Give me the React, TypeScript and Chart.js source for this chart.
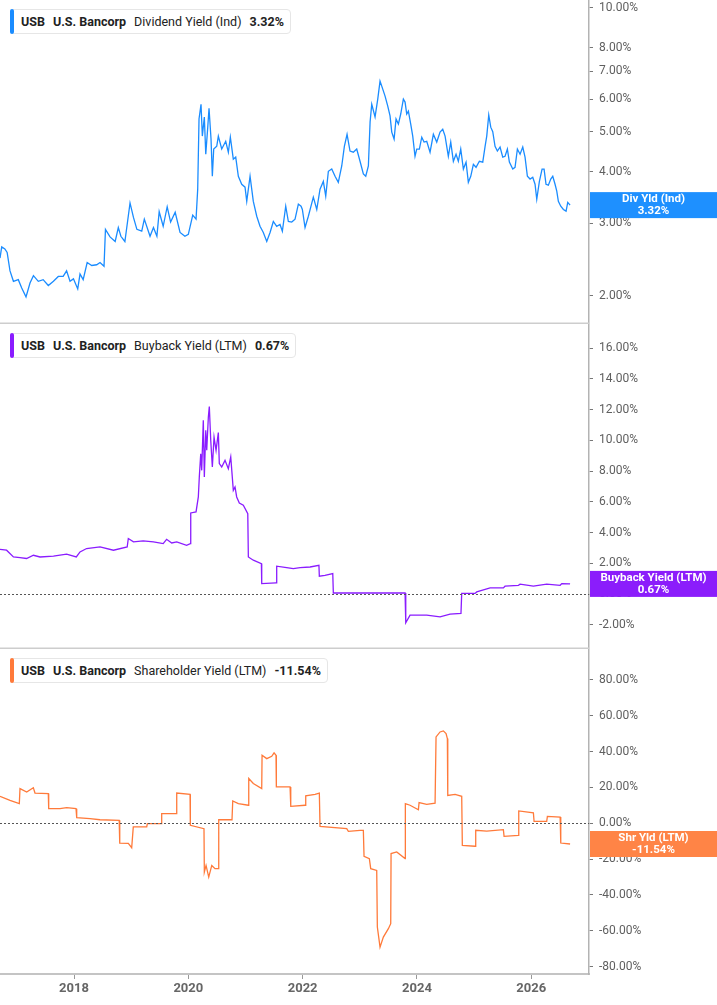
import React, { useEffect, useRef } from "react";
import { Chart, registerables } from "chart.js";

Chart.register(...registerables);

// ---------- DATA ----------
const X_MIN = 2016.705;
const X_MAX = 2027.01;
const xTickYears = [2018, 2020, 2022, 2024, 2026];

const divTicks = [2, 3, 4, 5, 6, 7, 8, 10];
const buybackTicks = [-2, 0, 2, 4, 6, 8, 10, 12, 14, 16];
const shrTicks = [-80, -60, -40, -20, 0, 20, 40, 60, 80];

const divYears = [
  2016.705, 2016.735, 2016.79, 2016.83, 2016.88, 2016.94, 2017.025, 2017.085, 2017.16, 2017.23,
  2017.29, 2017.375, 2017.46, 2017.55, 2017.64, 2017.725, 2017.81, 2017.87, 2017.93, 2017.99,
  2018.065, 2018.105, 2018.16, 2018.23, 2018.31, 2018.397, 2018.455, 2018.525, 2018.55, 2018.63,
  2018.72, 2018.775, 2018.82, 2018.89, 2018.98, 2019.04, 2019.1, 2019.185, 2019.23, 2019.33,
  2019.39, 2019.45, 2019.49, 2019.56, 2019.63, 2019.69, 2019.77, 2019.855, 2019.94, 2020.0,
  2020.077, 2020.135, 2020.164, 2020.187, 2020.222, 2020.245, 2020.28, 2020.305, 2020.34, 2020.362,
  2020.397, 2020.42, 2020.444, 2020.497, 2020.525, 2020.584, 2020.654, 2020.7, 2020.735, 2020.787,
  2020.829, 2020.875, 2020.934, 2020.992, 2021.022, 2021.08, 2021.137, 2021.197, 2021.254, 2021.312,
  2021.372, 2021.43, 2021.487, 2021.546, 2021.604, 2021.645, 2021.704, 2021.75, 2021.809, 2021.867,
  2021.925, 2021.972, 2021.995, 2022.042, 2022.1, 2022.187, 2022.247, 2022.304, 2022.362, 2022.404,
  2022.45, 2022.509, 2022.567, 2022.624, 2022.684, 2022.73, 2022.777, 2022.829, 2022.887, 2022.946,
  2023.004, 2023.062, 2023.104, 2023.15, 2023.18, 2023.209, 2023.267, 2023.314, 2023.354, 2023.384,
  2023.442, 2023.489, 2023.529, 2023.559, 2023.6, 2023.634, 2023.675, 2023.716, 2023.762, 2023.792,
  2023.821, 2023.85, 2023.891, 2023.926, 2023.966, 2023.996, 2024.042, 2024.084, 2024.124, 2024.171,
  2024.229, 2024.287, 2024.346, 2024.404, 2024.451, 2024.492, 2024.549, 2024.591, 2024.637, 2024.684,
  2024.724, 2024.766, 2024.812, 2024.859, 2024.899, 2024.941, 2024.987, 2025.034, 2025.092, 2025.151,
  2025.192, 2025.221, 2025.256, 2025.291, 2025.326, 2025.366, 2025.407, 2025.454, 2025.501, 2025.541,
  2025.582, 2025.617, 2025.676, 2025.716, 2025.757, 2025.804, 2025.851, 2025.891, 2025.932, 2025.979,
  2026.026, 2026.066, 2026.096, 2026.142, 2026.189, 2026.224, 2026.258, 2026.299, 2026.341, 2026.376,
  2026.416, 2026.446, 2026.474, 2026.516, 2026.562, 2026.609, 2026.638, 2026.679,
];
const divValues = [
  2.47, 2.63, 2.60, 2.55, 2.30, 2.17, 2.19, 2.09, 1.99, 2.15,
  2.24, 2.17, 2.19, 2.12, 2.17, 2.23, 2.23, 2.30, 2.17, 2.20,
  2.08, 2.26, 2.19, 2.41, 2.37, 2.38, 2.41, 2.36, 2.90, 2.78,
  2.71, 2.93, 2.79, 2.71, 3.36, 3.10, 2.90, 2.87, 3.07, 2.79,
  2.93, 2.79, 3.20, 2.95, 3.29, 3.02, 3.19, 2.85, 2.79, 2.82,
  3.14, 3.07, 3.63, 5.37, 5.83, 4.88, 5.43, 4.41, 5.13, 5.70,
  4.80, 3.90, 4.54, 4.61, 4.88, 4.54, 4.74, 4.46, 4.85, 4.29,
  4.34, 3.90, 3.73, 3.67, 3.39, 3.90, 3.39, 3.12, 2.95, 2.85,
  2.71, 2.85, 3.03, 2.95, 2.98, 2.87, 3.30, 3.03, 3.02, 3.07,
  3.34, 3.30, 3.24, 2.93, 3.12, 3.47, 3.24, 3.63, 3.79, 3.49,
  4.01, 4.06, 3.90, 3.77, 4.13, 4.61, 4.93, 4.49, 4.46, 4.54,
  4.24, 3.95, 3.90, 4.13, 5.28, 5.83, 5.43, 6.00, 6.63, 6.45,
  6.10, 5.77, 5.46, 4.99, 4.80, 5.37, 5.22, 5.52, 6.00, 5.90,
  5.52, 5.61, 5.22, 4.88, 4.36, 4.54, 4.54, 4.85, 4.72, 4.74,
  4.46, 4.93, 4.72, 4.99, 5.07, 4.88, 4.36, 4.72, 4.24, 4.41,
  4.24, 4.54, 4.06, 4.22, 3.77, 3.90, 4.17, 4.10, 4.24, 4.22,
  4.61, 4.88, 5.49, 5.13, 5.00, 4.61, 4.49, 4.59, 4.34, 4.36,
  4.54, 4.22, 4.06, 4.10, 4.54, 4.41, 4.59, 4.34, 3.90, 3.84,
  3.88, 3.73, 3.43, 3.79, 4.06, 4.06, 3.73, 3.71, 3.84, 3.90,
  3.73, 3.59, 3.39, 3.30, 3.24, 3.21, 3.37, 3.32,
];

const buybackYears = [
  2016.705, 2016.82, 2016.94, 2017.055, 2017.17, 2017.29, 2017.405, 2017.64, 2017.87, 2018.04,
  2018.105, 2018.22, 2018.455, 2018.69, 2018.93, 2018.95, 2019.04, 2019.21, 2019.39, 2019.56,
  2019.62, 2019.71, 2019.797, 2019.97, 2020.035, 2020.042, 2020.135, 2020.175, 2020.192, 2020.217,
  2020.234, 2020.262, 2020.28, 2020.305, 2020.322, 2020.35, 2020.367, 2020.392, 2020.42, 2020.45,
  2020.485, 2020.525, 2020.542, 2020.584, 2020.642, 2020.7, 2020.742, 2020.787, 2020.817, 2020.846,
  2020.892, 2020.962, 2021.04, 2021.05, 2021.137, 2021.278, 2021.284, 2021.534, 2021.546, 2021.72,
  2021.837, 2021.955, 2022.13, 2022.285, 2022.292, 2022.39, 2022.527, 2022.537, 2023.792, 2023.804,
  2023.879, 2024.171, 2024.404, 2024.579, 2024.77, 2024.783, 2025.016, 2025.046, 2025.28, 2025.512,
  2025.541, 2025.775, 2025.804, 2026.037, 2026.27, 2026.505, 2026.534, 2026.679,
];
const buybackValues = [
  2.92, 2.86, 2.42, 2.38, 2.32, 2.53, 2.42, 2.47, 2.60, 2.42,
  2.75, 2.97, 3.07, 2.86, 3.07, 3.62, 3.40, 3.46, 3.40, 3.29,
  3.57, 3.33, 3.40, 3.18, 3.29, 5.28, 5.35, 6.32, 7.62, 9.13,
  8.05, 11.3, 7.62, 10.65, 9.35, 11.5, 12.2, 10.0, 8.27, 10.2,
  9.35, 10.5, 8.49, 8.27, 8.70, 8.16, 8.92, 6.75, 6.97, 6.32,
  5.93, 5.78, 5.24, 2.42, 2.21, 1.99, 0.69, 0.74, 1.82, 1.73,
  1.67, 1.73, 1.77, 1.88, 1.17, 1.23, 1.34, 0.08, 0.08, -1.86,
  -1.36, -1.36, -1.47, -1.30, -1.25, 0.05, 0.05, 0.15, 0.41, 0.41,
  0.52, 0.58, 0.65, 0.52, 0.65, 0.58, 0.69, 0.67,
];

const shrYears = [
  2016.705, 2016.88, 2017.043, 2017.055, 2017.172, 2017.288, 2017.317, 2017.55, 2017.557, 2017.755,
  2017.872, 2018.035, 2018.047, 2018.28, 2018.455, 2018.79, 2018.8, 2018.95, 2019.009, 2019.037,
  2019.272, 2019.283, 2019.527, 2019.534, 2019.785, 2019.797, 2020.03, 2020.035, 2020.274, 2020.28,
  2020.31, 2020.357, 2020.41, 2020.467, 2020.525, 2020.532, 2020.764, 2020.777, 2020.875, 2021.05,
  2021.057, 2021.137, 2021.284, 2021.29, 2021.372, 2021.459, 2021.5, 2021.534, 2021.54, 2021.78,
  2021.792, 2022.042, 2022.054, 2022.217, 2022.292, 2022.304, 2022.771, 2022.8, 2023.004, 2023.062,
  2023.074, 2023.167, 2023.191, 2023.296, 2023.307, 2023.354, 2023.412, 2023.5, 2023.541, 2023.547,
  2023.646, 2023.792, 2023.797, 2023.879, 2024.025, 2024.037, 2024.171, 2024.317, 2024.334, 2024.404,
  2024.462, 2024.509, 2024.532, 2024.539, 2024.667, 2024.783, 2024.794, 2025.016, 2025.028, 2025.221,
  2025.512, 2025.524, 2025.775, 2025.781, 2026.037, 2026.049, 2026.27, 2026.282, 2026.505, 2026.516,
  2026.679,
];
const shrValues = [
  15.1, 12.8, 11.0, 19.4, 17.5, 19.9, 16.9, 16.6, 8.2, 8.2,
  8.8, 8.2, 3.2, 2.6, 2.0, 1.7, -11.0, -11.2, -13.6, -2.0,
  -2.0, -0.2, -0.2, 5.4, 5.4, 16.9, 16.2, -1.1, -3.0, -27.2,
  -23.5, -30.0, -23.5, -25.3, -25.3, 2.0, 2.0, 12.5, 11.0, 10.1,
  25.0, 22.2, 19.4, 38.0, 36.1, 37.4, 39.3, 38.0, 20.3, 20.3,
  9.5, 10.1, 15.3, 16.2, 16.9, -1.7, -3.0, -4.5, -3.9, -3.9,
  -18.4, -19.7, -25.3, -26.3, -57.9, -69.1, -63.5, -58.8, -56.0, -16.9,
  -16.0, -19.7, 11.0, 10.1, 7.6, 11.6, 10.6, 11.3, 48.2, 51.0,
  51.6, 50.1, 47.3, 15.6, 16.2, 15.1, -12.3, -12.8, -3.9, -4.3,
  -3.5, -7.3, -6.7, 6.9, 5.8, 1.1, 1.1, 3.9, 3.5, -11.0,
  -11.54,
];

// ---------- STYLE ----------
const FONT = "Roboto, 'Noto Sans', 'Liberation Sans', sans-serif";
const W = 717;
const AXIS_W = 128;

type PanelCfg = {
  top: number;
  height: number;
  years: number[];
  values: number[];
  color: string;
  tagColor: string;
  logScale: boolean;
  yMin: number;
  yMax: number;
  yTicks: number[];
  zeroLine: boolean;
  showX: boolean;
  tagLabel: string;
  legendName: string;
  legendValue: string;
};

const overlayPlugin = {
  id: "overlay",
  afterDatasetsDraw(chart: any, _args: any, opts: any) {
    const { ctx, chartArea } = chart;
    const ys = chart.scales.y;
    if (opts.zeroLine) {
      const y0 = Math.round(ys.getPixelForValue(0)) + 0.5;
      ctx.save();
      ctx.strokeStyle = "#555";
      ctx.lineWidth = 1;
      ctx.setLineDash([2, 2]);
      ctx.beginPath();
      ctx.moveTo(chartArea.left, y0);
      ctx.lineTo(chartArea.right, y0);
      ctx.stroke();
      ctx.restore();
    }
    if (opts.bottomLine) {
      ctx.save();
      ctx.strokeStyle = "#cdcdcd";
      ctx.lineWidth = 1.5;
      ctx.beginPath();
      ctx.moveTo(chartArea.left, chartArea.bottom - 0.75);
      ctx.lineTo(chartArea.right, chartArea.bottom - 0.75);
      ctx.stroke();
      ctx.restore();
    }
  },
  afterDraw(chart: any, _args: any, opts: any) {
    const { ctx, chartArea } = chart;
    const ys = chart.scales.y;
    const y = ys.getPixelForValue(opts.value);
    const left = chartArea.right + 1;
    const w = chart.width - left;
    ctx.save();
    ctx.fillStyle = opts.color;
    ctx.fillRect(left, y - 13, w, 26);
    ctx.fillStyle = "#ffffff";
    ctx.font = `bold 11.5px ${FONT}`;
    ctx.textAlign = "center";
    ctx.textBaseline = "middle";
    const cx = left + w / 2;
    ctx.fillText(opts.label, cx, y - 6);
    ctx.fillText(opts.value.toFixed(2) + "%", cx, y + 6);
    ctx.restore();
  },
};

function Panel({ cfg }: { cfg: PanelCfg }) {
  const ref = useRef<HTMLCanvasElement | null>(null);
  useEffect(() => {
    if (!ref.current) return;
    const points = cfg.years.map((x, i) => ({ x, y: cfg.values[i] }));
    const last = cfg.values[cfg.values.length - 1];
    const chart = new Chart(ref.current, {
      type: "line",
      data: {
        datasets: [
          {
            data: points,
            borderColor: cfg.color,
            borderWidth: 1.3,
            pointRadius: 0,
            tension: 0,
            fill: false,
          },
        ],
      },
      plugins: [overlayPlugin as any],
      options: {
        animation: false,
        responsive: true,
        maintainAspectRatio: false,
        layout: { padding: 0 },
        events: [],
        plugins: {
          legend: { display: false },
          tooltip: { enabled: false },
          overlay: {
            zeroLine: cfg.zeroLine,
            bottomLine: !cfg.showX,
            value: last,
            color: cfg.tagColor,
            label: cfg.tagLabel,
          },
        } as any,
        scales: {
          x: {
            type: "linear",
            min: X_MIN,
            max: X_MAX,
            display: cfg.showX,
            afterBuildTicks: (axis: any) => {
              axis.ticks = xTickYears.map((v) => ({ value: v }));
            },
            afterFit: (s: any) => {
              s.height = cfg.showX ? 31 : 0;
              s.paddingLeft = 0;
              s.paddingRight = 0;
            },
            ticks: {
              callback: (v: any) => String(v),
              color: "#666",
              font: { family: FONT, size: 13, weight: "bold" },
              padding: 2,
              maxRotation: 0,
              autoSkip: false,
            },
            grid: {
              display: true,
              drawOnChartArea: false,
              drawTicks: true,
              tickLength: 5,
              color: "#999",
            },
            border: { display: true, color: "#c4c4c4", width: 2 },
          },
          y: {
            type: cfg.logScale ? "logarithmic" : "linear",
            position: "right",
            min: cfg.yMin,
            max: cfg.yMax,
            afterBuildTicks: (axis: any) => {
              axis.ticks = cfg.yTicks.map((v) => ({ value: v }));
            },
            afterFit: (s: any) => {
              s.width = AXIS_W;
              s.paddingTop = 0;
              s.paddingBottom = 0;
            },
            ticks: {
              callback: (v: any) => Number(v).toFixed(2) + "%",
              color: "#5f5f5f",
              font: { family: FONT, size: 12 },
              padding: 6,
              autoSkip: false,
            },
            grid: {
              display: true,
              drawOnChartArea: false,
              drawTicks: true,
              tickLength: 4,
              color: "#777",
            },
            border: { display: true, color: "#b3b3b3", width: 1.5 },
          } as any,
        },
      },
    });
    return () => chart.destroy();
  }, [cfg]);

  return (
    <div
      style={{
        position: "absolute",
        left: 0,
        top: cfg.top,
        width: W,
        height: cfg.height,
      }}
    >
      <canvas ref={ref} />
      <div
        style={{
          position: "absolute",
          left: 10,
          top: 8.5,
          height: 25,
          boxSizing: "border-box",
          border: "1px solid #e6e6e6",
          borderRadius: 4,
          background: "#fff",
          display: "flex",
          alignItems: "center",
          gap: 8,
          paddingLeft: 10,
          paddingRight: 6,
          fontFamily: FONT,
          fontSize: 12.5,
          color: "#222",
          whiteSpace: "nowrap",
        }}
      >
        <span
          style={{
            position: "absolute",
            left: -1,
            top: -1,
            bottom: -1,
            width: 3.5,
            background: cfg.color,
            borderRadius: 2,
          }}
        />
        <span style={{ fontWeight: 700 }}>USB</span>
        <span style={{ fontWeight: 700 }}>U.S. Bancorp</span>
        <span>{cfg.legendName}</span>
        <span style={{ fontWeight: 700 }}>{cfg.legendValue}</span>
      </div>
    </div>
  );
}

const panels: PanelCfg[] = [
  {
    top: 0,
    height: 324,
    years: divYears,
    values: divValues,
    color: "#1a8cff",
    tagColor: "#1e90ff",
    logScale: true,
    yMin: 1.71,
    yMax: 10.43,
    yTicks: divTicks,
    zeroLine: false,
    showX: false,
    tagLabel: "Div Yld (Ind)",
    legendName: "Dividend Yield (Ind)",
    legendValue: "3.32%",
  },
  {
    top: 324,
    height: 325,
    years: buybackYears,
    values: buybackValues,
    color: "#8a1cff",
    tagColor: "#8b1dfb",
    logScale: false,
    yMin: -3.56,
    yMax: 17.56,
    yTicks: buybackTicks,
    zeroLine: true,
    showX: false,
    tagLabel: "Buyback Yield (LTM)",
    legendName: "Buyback Yield (LTM)",
    legendValue: "0.67%",
  },
  {
    top: 649,
    height: 356,
    years: shrYears,
    values: shrValues,
    color: "#ff7a3a",
    tagColor: "#ff8446",
    logScale: false,
    yMin: -84.1,
    yMax: 97.3,
    yTicks: shrTicks,
    zeroLine: true,
    showX: true,
    tagLabel: "Shr Yld (LTM)",
    legendName: "Shareholder Yield (LTM)",
    legendValue: "-11.54%",
  },
];

export default function App() {
  return (
    <div
      style={{
        position: "absolute",
        left: 0,
        top: 0,
        width: W,
        height: 1005,
        background: "#fff",
        overflow: "hidden",
      }}
    >
      {panels.map((p, i) => (
        <Panel key={i} cfg={p} />
      ))}
    </div>
  );
}
